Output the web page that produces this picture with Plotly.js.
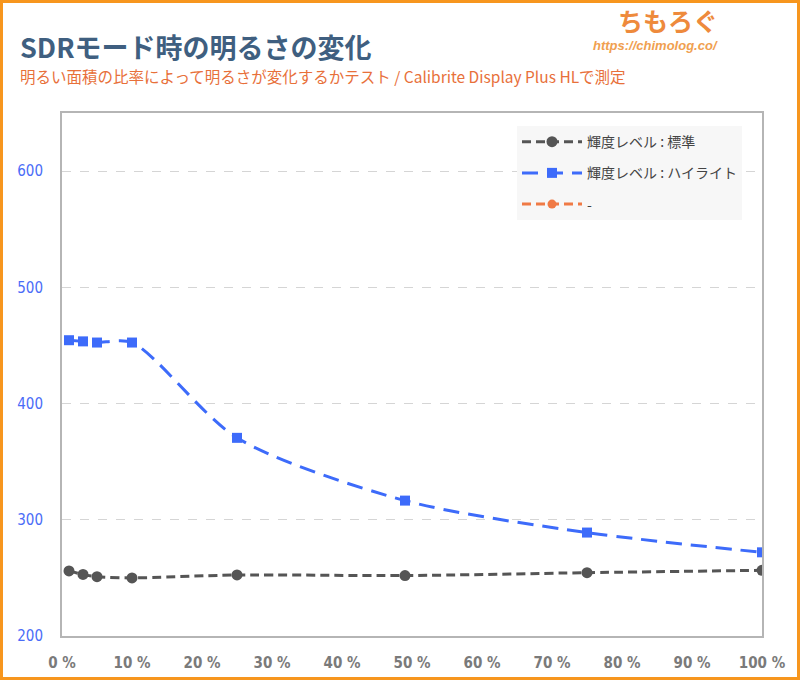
<!DOCTYPE html>
<html>
<head>
<meta charset="utf-8">
<script src="https://cdn.plot.ly/plotly-3.0.1.min.js"></script>
<style>
  html, body { margin: 0; padding: 0; background: #fff; }
  #frame { width: 800px; height: 680px; box-sizing: border-box; border: 3px solid #f7961e; overflow: hidden; }
  #chart { width: 794px; height: 674px; }
</style>
</head>
<body>
<div id="frame"><div id="chart"></div></div>
<script>
// area ratio (%) of the bright patch
const ratio = [1, 3, 5, 10, 25, 49, 75, 100];
// 輝度レベル : 標準 (cd/m2)
const standard = [256, 253, 251, 250, 252.5, 252, 254.5, 256.5];
// 輝度レベル : ハイライト (cd/m2)
const highlight = [454.5, 453.5, 452.5, 452.5, 370.5, 316.5, 289, 272];
const xTicks = [0, 10, 20, 30, 40, 50, 60, 70, 80, 90, 100];
const yTicks = [200, 300, 400, 500, 600];

const traces = [
    {
        x: ratio,
        y: standard,
        mode: "lines+markers",
        name: "輝度レベル : 標準",
        legendgroup: "a",
        line: {color: "#555555", width: 3, dash: "9px,5px", shape: "spline", smoothing: 0.8},
        marker: {symbol: "circle", size: 11, color: "#555555"}
    },
    {
        x: ratio,
        y: highlight,
        mode: "lines+markers",
        name: "輝度レベル : ハイライト",
        legendgroup: "b",
        line: {color: "#3d6bfa", width: 3, dash: "16px,9px", shape: "spline", smoothing: 0.8},
        marker: {symbol: "square", size: 10, color: "#3d6bfa"}
    },
    {
        x: [null],
        y: [null],
        mode: "lines+markers",
        name: "-",
        legendgroup: "c",
        line: {color: "#f07a45", width: 3, dash: "9px,5px"},
        marker: {symbol: "circle", size: 9, color: "#f07a45"}
    }
];

const layout = {
    width: 794,
    height: 674,
    margin: {l: 59, r: 35, t: 110, b: 41},
    paper_bgcolor: "#ffffff",
    plot_bgcolor: "#ffffff",
    showlegend: true,
    legend: {
        x: 0.65, y: 0.975, xanchor: "left", yanchor: "top",
        bgcolor: "#f7f7f7",
        font: {family: "Noto Sans CJK JP", size: 14, color: "#444444"},
        tracegroupgap: 10,
        itemwidth: 60
    },
    xaxis: {
        range: [0, 100],
        tickvals: xTicks,
        ticktext: xTicks.map(v => v + " %"),
        tickfont: {family: "DejaVu Sans Condensed", size: 15, color: "#7a7a7a", weight: "bold"},
        showgrid: false,
        zeroline: false,
        showline: true,
        linecolor: "#b5b5b5",
        linewidth: 2,
        mirror: true,
        ticks: "",
        ticklabelstandoff: 12
    },
    yaxis: {
        range: [200, 650],
        tickvals: yTicks,
        tickfont: {family: "DejaVu Sans Condensed", size: 15, color: "#4a6cf7"},
        showgrid: true,
        gridcolor: "#d5d5d5",
        griddash: "dash",
        gridwidth: 1,
        zeroline: false,
        showline: true,
        linecolor: "#b5b5b5",
        linewidth: 2,
        mirror: true,
        ticks: "",
        ticklabelstandoff: 14
    },
    annotations: [
        {
            xref: "paper", yref: "paper", x: -0.063, y: 1.128, xanchor: "left", yanchor: "middle",
            text: "<b>SDRモード時の明るさの変化</b>", showarrow: false,
            font: {family: "Noto Sans CJK JP", size: 27, color: "#3f5f80"}
        },
        {
            xref: "paper", yref: "paper", x: -0.063, y: 1.07, xanchor: "left", yanchor: "middle",
            text: "明るい面積の比率によって明るさが変化するかテスト / Calibrite Display Plus HLで測定", showarrow: false,
            font: {family: "Noto Sans CJK JP", size: 15.5, color: "#e8703a"}
        },
        {
            xref: "paper", yref: "paper", x: 0.94, y: 1.178, xanchor: "right", yanchor: "middle",
            text: "<b>ちもろぐ</b>", showarrow: false,
            font: {family: "Noto Sans CJK JP", size: 25, color: "#ee8a3c"}
        },
        {
            xref: "paper", yref: "paper", x: 0.94, y: 1.13, xanchor: "right", yanchor: "middle",
            text: "<b><i>https://chimolog.co/</i></b>", showarrow: false,
            font: {family: "Liberation Sans", size: 13, color: "#f0a050"}
        }
    ]
};

Plotly.newPlot("chart", traces, layout, {displayModeBar: false});
</script>
</body>
</html>
